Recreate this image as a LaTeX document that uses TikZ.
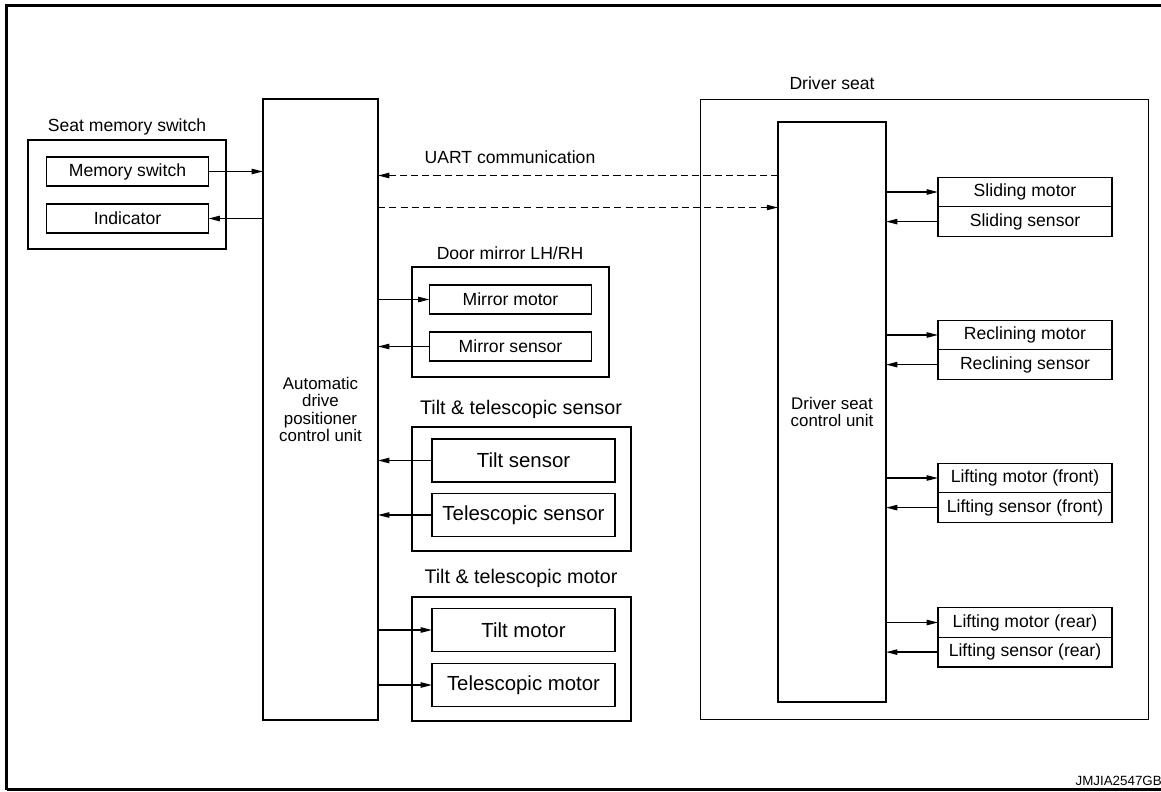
\documentclass[tikz,border=0pt]{standalone}
\usepackage{fontspec}
\setmainfont{Liberation Sans}
\usetikzlibrary{arrows.meta, positioning}

\begin{document}
\begin{tikzpicture}[
    x=0.025cm, y=-0.025cm,
    groupbox/.style={draw, line width=0.9pt, inner sep=0pt, outer sep=0pt},
    ctrlunit/.style={draw, line width=0.9pt, inner sep=0pt, outer sep=0pt, align=center, font=\fontsize{12}{12.5}\selectfont},
    part/.style={draw, line width=0.9pt, inner sep=0pt, outer sep=0pt, minimum width=4.05cm, minimum height=0.725cm, font=\fontsize{12.5}{14}\selectfont},
    bigpart/.style={part, minimum width=4.575cm, minimum height=1.075cm, font=\fontsize{14.5}{16}\selectfont},
    seatpart/.style={part, minimum width=4.35cm, minimum height=0.74cm},
    grouptitle/.style={font=\fontsize{12.5}{14}\selectfont},
    bigtitle/.style={font=\fontsize{14}{16}\selectfont},
    arrow/.style={-{Triangle[length=8pt, width=3.8pt]}, line width=0.9pt},
    uart/.style={arrow, dash pattern=on 5pt off 3pt}
]
    \useasboundingbox (0,0) rectangle (1161,791);
    % frame
    \draw[line width=2.1pt] (1161,5.5) -- (6.5,5.5) -- (6.5,790);
    \draw[line width=1.5pt] (6.5,789.5) -- (1161,789.5);
    \node[anchor=south east, inner sep=0pt, font=\fontsize{9.5}{10}\selectfont] (code) at (1162,786) {JMJIA2547GB};

    % seat memory switch
    \node[grouptitle] (smtitle) at (127,127) {Seat memory switch};
    \node[groupbox, minimum width=4.95cm, minimum height=2.725cm] (smsw) at (127,194.5) {};
    \node[part] (memsw) at (127.5,171.5) {Memory switch};
    \node[part] (ind) at (127.5,218.5) {Indicator};

    % automatic drive positioner control unit
    \node[ctrlunit, minimum width=2.875cm, minimum height=15.525cm] (adp) at (320.5,409.5) {Automatic\\drive\\positioner\\control unit};

    % door mirror
    \node[grouptitle] (dmtitle) at (510,253) {Door mirror LH/RH};
    \node[groupbox, minimum width=4.925cm, minimum height=2.75cm] (dm) at (510.5,322) {};
    \node[part] (mmot) at (510.5,299.5) {Mirror motor};
    \node[part] (msen) at (510.5,346.5) {Mirror sensor};

    % tilt & telescopic sensor
    \node[bigtitle] (tstitle) at (521,409) {Tilt \& telescopic sensor};
    \node[groupbox, minimum width=5.475cm, minimum height=3.1cm] (ts) at (521.5,489) {};
    \node[bigpart] (tsen) at (523.5,460.5) {Tilt sensor};
    \node[bigpart] (tlsen) at (523.5,515) {Telescopic sensor};

    % tilt & telescopic motor
    \node[bigtitle] (tmtitle) at (521,578) {Tilt \& telescopic motor};
    \node[groupbox, minimum width=5.475cm, minimum height=3.1cm] (tm) at (521.5,659) {};
    \node[bigpart] (tmot) at (523.5,630) {Tilt motor};
    \node[bigpart] (tlmot) at (523.5,685) {Telescopic motor};

    % driver seat
    \node[grouptitle] (dstitle) at (832,83) {Driver seat};
    \node[groupbox, minimum width=11.2cm, minimum height=15.5cm] (ds) at (924.5,409.5) {};
    \node[ctrlunit, minimum width=2.7cm, minimum height=14.5cm] (dscu) at (832,412) {Driver seat\\control unit};
    \node[seatpart] (slm) at (1025,192) {Sliding motor};
    \node[seatpart, below=0pt of slm] (sls) {Sliding sensor};
    \node[seatpart] (rcm) at (1025,335) {Reclining motor};
    \node[seatpart, below=0pt of rcm] (rcs) {Reclining sensor};
    \node[seatpart] (lfm) at (1025,478) {Lifting motor (front)};
    \node[seatpart, below=0pt of lfm] (lfs) {Lifting sensor (front)};
    \node[seatpart] (lrm) at (1025,622.5) {Lifting motor (rear)};
    \node[seatpart, below=0pt of lrm] (lrs) {Lifting sensor (rear)};

    % UART communication
    \node[grouptitle] (uartlbl) at (510,157) {UART communication};
    \coordinate (uartl) at (0,175.5);
    \coordinate (uartr) at (0,207.5);
    \draw[uart] (dscu.west |- uartl) -- (adp.east |- uartl);
    \draw[uart] (adp.east |- uartr) -- (dscu.west |- uartr);

    % signals
    \draw[arrow] (memsw.east) -- (memsw.east -| adp.west);
    \draw[arrow] (ind.east -| adp.west) -- (ind.east);
    \draw[arrow] (mmot.west -| adp.east) -- (mmot.west);
    \draw[arrow] (msen.west) -- (msen.west -| adp.east);
    \draw[arrow] (tsen.west) -- (tsen.west -| adp.east);
    \draw[arrow] (tlsen.west) -- (tlsen.west -| adp.east);
    \draw[arrow] (tmot.west -| adp.east) -- (tmot.west);
    \draw[arrow] (tlmot.west -| adp.east) -- (tlmot.west);

    \draw[arrow] (slm.west -| dscu.east) -- (slm.west);
    \draw[arrow] (sls.west) -- (sls.west -| dscu.east);
    \draw[arrow] (rcm.west -| dscu.east) -- (rcm.west);
    \draw[arrow] (rcs.west) -- (rcs.west -| dscu.east);
    \draw[arrow] (lfm.west -| dscu.east) -- (lfm.west);
    \draw[arrow] (lfs.west) -- (lfs.west -| dscu.east);
    \draw[arrow] (lrm.west -| dscu.east) -- (lrm.west);
    \draw[arrow] (lrs.west) -- (lrs.west -| dscu.east);
\end{tikzpicture}
\end{document}
